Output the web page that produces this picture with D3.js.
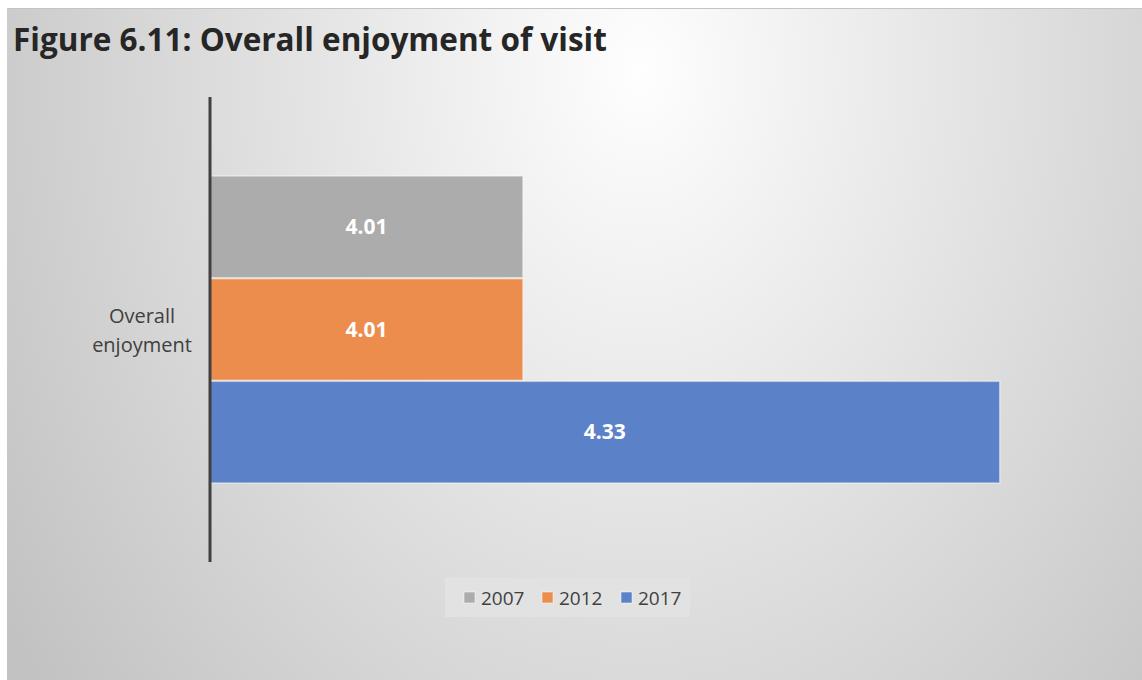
<!DOCTYPE html>
<html>
<head>
<meta charset="utf-8">
<script src="https://cdn.jsdelivr.net/npm/d3@7"></script>
<style>
  body { margin: 0; background: #fff; }
  svg { display: block; }
</style>
</head>
<body>
<svg id="chart" width="1142" height="680"></svg>
<script>
// chart values
var categories = ["Overall enjoyment"];
var seriesNames = ["2007", "2012", "2017"];
var seriesValues = [4.01, 4.01, 4.33];
var seriesColors = ["#acacac", "#ec8d4e", "#5b82c8"];
var titleText = "Figure 6.11: Overall enjoyment of visit";

var svg = d3.select("#chart");
var font = "'Open Sans', 'Noto Sans', sans-serif";

// background with (elliptical) radial gradient
var defs = svg.append("defs");
var grad = defs.append("radialGradient")
    .attr("id", "bg")
    .attr("gradientUnits", "userSpaceOnUse")
    .attr("cx", 640).attr("cy", 70).attr("r", 760)
    .attr("gradientTransform", "translate(640,70) scale(1,1.32) translate(-640,-70)");
grad.append("stop").attr("offset", "0%").attr("stop-color", "#fefefe");
grad.append("stop").attr("offset", "100%").attr("stop-color", "#c2c2c2");

svg.append("rect")
    .attr("x", 7).attr("y", 8)
    .attr("width", 1135).attr("height", 672)
    .attr("fill", "url(#bg)");
svg.append("line")
    .attr("x1", 7).attr("x2", 1142).attr("y1", 8.5).attr("y2", 8.5)
    .attr("stroke", "#c4c4c4").attr("stroke-width", 1);

// title
svg.append("text")
    .attr("x", 13).attr("y", 51)
    .attr("font-family", font)
    .attr("font-weight", "bold")
    .attr("font-size", 31.5)
    .attr("fill", "#262626")
    .text(titleText);

var plot = {left: 210, right: 1104, top: 97, bottom: 562};

var x = d3.scaleLinear()
    .domain([3.8, 4.4])
    .range([plot.left, plot.right]);

var y0 = d3.scaleBand()
    .domain(categories)
    .range([plot.top, plot.bottom])
    .paddingInner(0)
    .paddingOuter(0.255);

var y1 = d3.scaleBand()
    .domain(seriesNames)
    .range([0, y0.bandwidth()])
    .padding(0);

var g = svg.append("g");

var rows = seriesNames.map(function(s, i){
  return {cat: categories[0], name: s, value: seriesValues[i], color: seriesColors[i]};
});

g.selectAll("rect.bar")
  .data(rows)
  .enter()
  .append("rect")
  .attr("class", "bar")
  .attr("x", x(x.domain()[0]))
  .attr("y", function(d){ return y0(d.cat) + y1(d.name) + 0.5; })
  .attr("width", function(d){ return x(d.value) - x(x.domain()[0]); })
  .attr("height", y1.bandwidth() - 1)
  .attr("fill", function(d){ return d.color; })
  .attr("stroke", "rgba(255,255,255,0.45)")
  .attr("stroke-width", 1.5);

g.selectAll("text.label")
  .data(rows)
  .enter()
  .append("text")
  .attr("class", "label")
  .attr("x", function(d){ return (x(x.domain()[0]) + x(d.value)) / 2; })
  .attr("y", function(d){ return y0(d.cat) + y1(d.name) + y1.bandwidth() / 2; })
  .attr("dy", "0.35em")
  .attr("text-anchor", "middle")
  .attr("font-family", font)
  .attr("font-weight", "bold")
  .attr("font-size", 21)
  .attr("fill", "#ffffff")
  .text(function(d){ return d.value.toFixed(2); });

// category axis
var yAxis = d3.axisLeft(y0).tickSize(0).tickPadding(0);
var axisG = svg.append("g")
    .attr("transform", "translate(" + plot.left + ",0)")
    .call(yAxis);
axisG.select(".domain")
    .attr("stroke", "#404040")
    .attr("stroke-width", 3)
    .attr("d", "M0," + plot.top + "V" + plot.bottom);
axisG.selectAll(".tick text").remove();

// wrapped category label
categories.forEach(function(c){
  var words = ["Overall", "enjoyment"];
  var t = svg.append("text")
      .attr("text-anchor", "middle")
      .attr("font-family", font)
      .attr("font-size", 20)
      .attr("fill", "#404040");
  words.forEach(function(w, i){
    t.append("tspan")
      .attr("x", 142)
      .attr("y", y0(c) + y0.bandwidth() / 2 - 7 + i * 29)
      .text(w);
  });
});

// legend
var legend = svg.append("g");
legend.append("rect")
    .attr("x", 445).attr("y", 578)
    .attr("width", 245).attr("height", 39)
    .attr("fill", "#e2e2e2");
var legendX = [464, 542, 621];
seriesNames.forEach(function(s, i){
  legend.append("rect")
    .attr("x", legendX[i]).attr("y", 592)
    .attr("width", 11).attr("height", 11)
    .attr("fill", seriesColors[i])
    .attr("stroke", "rgba(255,255,255,0.5)");
  legend.append("text")
    .attr("x", legendX[i] + 17).attr("y", 598)
    .attr("dy", "0.35em")
    .attr("font-family", font)
    .attr("font-size", 19)
    .attr("fill", "#404040")
    .text(s);
});
</script>
</body>
</html>
